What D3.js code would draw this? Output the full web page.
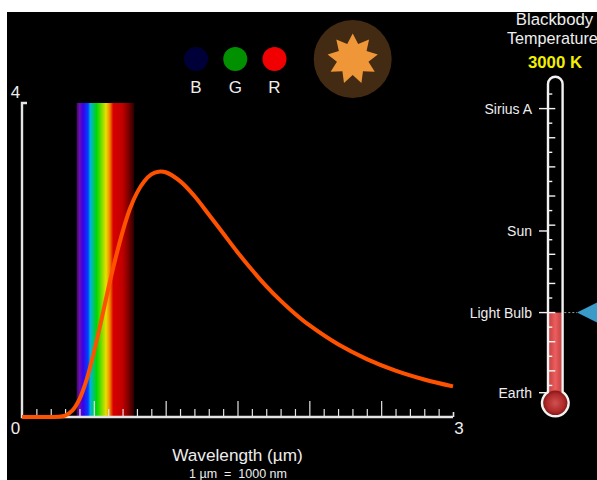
<!DOCTYPE html>
<html><head><meta charset="utf-8">
<style>html,body{margin:0;padding:0;background:#fff;overflow:hidden}svg{display:block}text{font-family:"Liberation Sans",Arial,sans-serif}</style>
<script src="https://cdn.jsdelivr.net/npm/d3@7"></script></head><body>
<svg id="c" width="597" height="480"></svg>
<script>
const wavelengths=[0,0.1,0.2,0.25,0.3,0.35,0.4,0.45,0.5,0.55,0.6,0.65,0.7,0.75,0.8,0.85,0.9,0.95,1,1.1,1.2,1.3,1.4,1.5,1.6,1.7,1.8,1.9,2,2.2,2.4,2.6,2.8,3];
const intensity=[0,0,0,0.002,0.018,0.08,0.227,0.476,0.818,1.214,1.63,2.013,2.358,2.646,2.855,3.0,3.09,3.125,3.118,3.005,2.816,2.58,2.34,2.1,1.875,1.668,1.482,1.316,1.169,0.926,0.738,0.591,0.478,0.39];
const minorTicks=[0.1,0.2,0.3,0.4,0.6,0.7,0.8,0.9,1.1,1.2,1.3,1.4,1.6,1.7,1.8,1.9,2.1,2.2,2.3,2.4,2.6,2.7,2.8,2.9];
const majorTicks=[0.5,1,1.5,2,2.5];
const spectrumL=[0.38,0.40,0.425,0.46,0.475,0.52,0.585,0.612,0.635,0.70,0.74,0.78];
const spectrumC=["#3c0a5c","#6a0fb0","#3a00e8","#0040ff","#00b0e0","#00d800","#e8e000","#f08000","#d80000","#c00000","#800000","#2a0000"];
const legendNames=["B","G","R"];
const legendColors=["#000038","#009000","#f00000"];
const thermoMinor=[500,1500,2500,3500,4500,5500,6500,7500,8500,9500,10500];
const thermoMid=[1000,2000,3000,4000,5000,6000,7000,8000,9000];
const refNames=["Sirius A","Sun","Light Bulb","Earth"];
const refTemps=[10000,5800,3000,250];
const currentTemp=3000;

const svg=d3.select("#c");
const defs=svg.append("defs");
svg.append("rect").attr("x",7).attr("y",12).attr("width",590).attr("height",468).attr("fill","#000");

const x=d3.scaleLinear().domain([0,3]).range([22,453]);
const y=d3.scaleLinear().domain([0,4]).range([417,103]);
const t=d3.scaleLinear().domain([0,10000]).range([400,108.6]);

// spectrum
const g=defs.append("linearGradient").attr("id","spec");
g.selectAll("stop").data(spectrumL).join("stop")
 .attr("offset",(d)=>(d-spectrumL[0])/(spectrumL[spectrumL.length-1]-spectrumL[0]))
 .attr("stop-color",(d,i)=>spectrumC[i]);
svg.append("rect").attr("x",x(0.38)).attr("y",y(4)).attr("width",x(0.78)-x(0.38)).attr("height",y(0)-y(4)).attr("fill","url(#spec)");

// axes
const axisCol="#e4e4e4";
function styleAxis(sel,w){sel.select(".domain").remove();sel.selectAll("line").attr("stroke",axisCol).attr("stroke-width",w);sel.selectAll("text").remove();}
svg.append("g").attr("transform","translate(0,417)").call(d3.axisBottom(x).tickValues(minorTicks).tickSize(-8)).call(styleAxis,1.2);
svg.append("g").attr("transform","translate(0,417)").call(d3.axisBottom(x).tickValues(majorTicks).tickSize(-16)).call(styleAxis,1.2);
svg.append("g").attr("transform","translate(0,417)").call(d3.axisBottom(x).tickValues([3]).tickSize(-5)).call(styleAxis,1.6);
svg.append("path").attr("fill","none").attr("stroke",axisCol).attr("stroke-width",2.4)
 .attr("d",`M${x(0)+5},${y(4)}H${x(0)}V${y(0)}H${x(3)}`);

// curve
const line=d3.line().x((d,i)=>x(wavelengths[i])).y(d=>y(d)).curve(d3.curveCatmullRom);
svg.append("path").datum(intensity).attr("fill","none").attr("stroke","#ff5200").attr("stroke-width",4).attr("d",line);

// axis labels
function txt(px,py,s,size,anchor,col,weight){return svg.append("text").attr("x",px).attr("y",py).attr("font-size",size).attr("text-anchor",anchor||"middle").attr("fill",col||"#eee").attr("font-weight",weight||"normal").text(s);}
txt(15.5,433.5,"0",17);txt(15.5,97.5,"4",17);txt(459,433.5,"3",17);
txt(237.5,461,"Wavelength (µm)",17.2);
txt(238,477.5,"1 µm  =  1000 nm",12.5).style("white-space","pre");

// legend
const lx=d3.scalePoint().domain(legendNames).range([196,274.5]);
svg.selectAll(".lg").data(legendNames).join("circle").attr("cx",d=>lx(d)).attr("cy",59).attr("r",12).attr("fill",(d,i)=>legendColors[i]);
legendNames.forEach(n=>txt(lx(n),92.5,n,17));

// star
svg.append("circle").attr("cx",352.7).attr("cy",59).attr("r",39).attr("fill","#432a12");
const starPts=d3.range(18).map(i=>[i*Math.PI/9,i%2?16:25.5]);
svg.append("path").attr("transform","translate(352.7,59)").attr("fill","#ef9738").attr("d",d3.lineRadial().curve(d3.curveLinearClosed)(starPts));

// thermometer
const fg=defs.append("linearGradient").attr("id","tf");
[["0","#c84040"],["0.5","#ea5e5e"],["1","#c84040"]].forEach(s=>fg.append("stop").attr("offset",s[0]).attr("stop-color",s[1]));
const bg=defs.append("radialGradient").attr("id","bf");
[["0","#d05050"],["0.7","#b02a2a"],["1","#841616"]].forEach(s=>bg.append("stop").attr("offset",s[0]).attr("stop-color",s[1]));
const cx=555.3,cy=403;
svg.append("rect").attr("x",cx-6.5).attr("y",t(currentTemp)).attr("width",13).attr("height",cy-t(currentTemp)).attr("fill","url(#tf)");
svg.append("circle").attr("cx",cx).attr("cy",cy).attr("r",12.5).attr("fill","url(#bf)");
const a=Math.asin(7.3/13.3),dy=13.3*Math.cos(a);
svg.append("path").attr("fill","none").attr("stroke","#f2f2f2").attr("stroke-width",2.4)
 .attr("d",`M${cx-7.3},${cy-dy}V84A7.3,7.3 0 0 1 ${cx+7.3},84V${cy-dy}A13.3,13.3 0 1 1 ${cx-7.3},${cy-dy}Z`);
const tl=svg.append("g");
tl.selectAll(".a").data(thermoMinor).join("line").attr("x1",cx-7.5).attr("x2",cx-3).attr("y1",t).attr("y2",t).attr("stroke","#f2f2f2").attr("stroke-width",1.4);
tl.selectAll(".b").data(thermoMid).join("line").attr("x1",cx-7.5).attr("x2",cx).attr("y1",t).attr("y2",t).attr("stroke","#f2f2f2").attr("stroke-width",1.4);
refTemps.forEach((v,i)=>{
 svg.append("line").attr("x1",539).attr("x2",i==0?cx:cx-7).attr("y1",t(v)).attr("y2",t(v)).attr("stroke","#f2f2f2").attr("stroke-width",1.4);
 txt(532,t(v)+5,refNames[i],14,"end");
});
txt(554.5,25,"Blackbody",16.8);
txt(507,44,"Temperature",16.2,"start");
txt(555,67.5,currentTemp+" K",16.8,"middle","#f0f000","bold");
// pointer
svg.append("line").attr("x1",cx+9).attr("x2",577).attr("y1",t(currentTemp)).attr("y2",t(currentTemp)).attr("stroke","#999").attr("stroke-width",1).attr("stroke-dasharray","2,2");
svg.append("path").attr("fill","#3a9ac8").attr("transform",`translate(577,${t(currentTemp)})`).attr("d",d3.line()([[0,0],[22,-11],[22,11]]));
</script></body></html>
